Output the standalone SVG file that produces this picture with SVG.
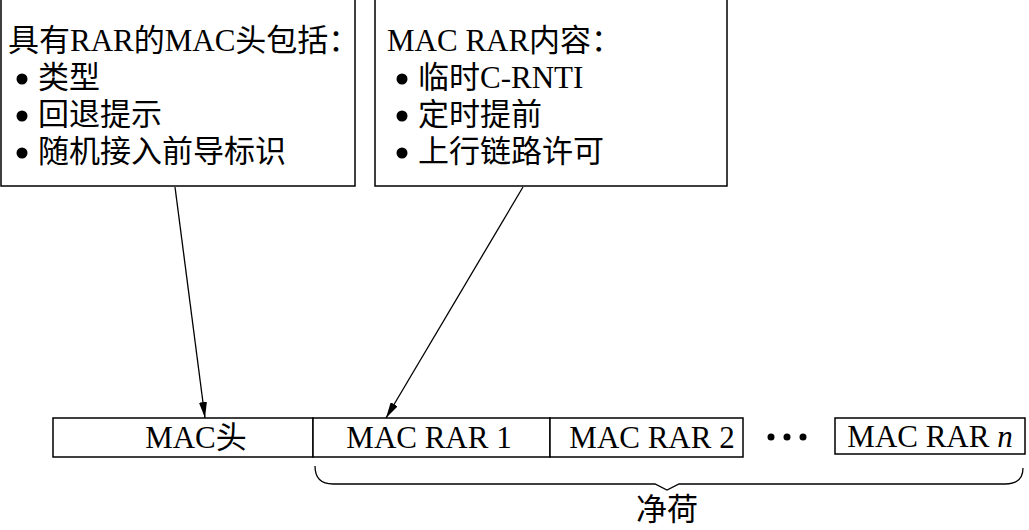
<svg xmlns="http://www.w3.org/2000/svg" width="1029" height="530" viewBox="0 0 1029 530">
<style>
.box{fill:#fff;stroke:#000;stroke-width:1.5}
.t{font-family:"Liberation Serif","Noto Sans CJK SC",serif;font-size:31px;fill:#000}
.c{text-anchor:middle}
.ln{stroke:#000;stroke-width:1.3;fill:none}
</style>
<defs>
<marker id="ah" viewBox="0 0 16 8" refX="16" refY="4" markerWidth="16" markerHeight="8" markerUnits="userSpaceOnUse" orient="auto">
<path d="M0,0 L16,4 L0,8 Z" fill="#000"/>
</marker>
</defs>
<rect width="1029" height="530" fill="#fff"/>
<g id="note1">
<rect class="box" x="1" y="-1" width="354" height="187"/>
<text class="t" x="8" y="51">具有RAR的MAC头包括：</text>
<circle cx="22" cy="79" r="5.5"/>
<text class="t" x="38" y="88">类型</text>
<circle cx="22" cy="116" r="5.5"/>
<text class="t" x="38" y="125">回退提示</text>
<circle cx="22" cy="153" r="5.5"/>
<text class="t" x="38" y="162">随机接入前导标识</text>
</g>
<g id="note2">
<rect class="box" x="375" y="-1" width="352" height="187"/>
<text class="t" x="387" y="51">MAC RAR内容：</text>
<circle cx="402" cy="79" r="5.5"/>
<text class="t" x="418" y="88">临时C-RNTI</text>
<circle cx="402" cy="116" r="5.5"/>
<text class="t" x="418" y="125">定时提前</text>
<circle cx="402" cy="153" r="5.5"/>
<text class="t" x="418" y="162">上行链路许可</text>
</g>
<g id="machead">
<rect class="box" x="53" y="418" width="260" height="39"/>
<text class="t c" x="196" y="448">MAC头</text>
</g>
<g id="rar1">
<rect class="box" x="313" y="418" width="237" height="39"/>
<text class="t c" x="429" y="448">MAC RAR 1</text>
</g>
<g id="rar2">
<rect class="box" x="550" y="418" width="193" height="39"/>
<text class="t c" x="652" y="448">MAC RAR 2</text>
</g>
<g id="dots">
<circle cx="771" cy="437" r="3.5"/>
<circle cx="787" cy="437" r="3.5"/>
<circle cx="803" cy="437" r="3.5"/>
</g>
<g id="rarn">
<rect class="box" x="835" y="418" width="190" height="36"/>
<text class="t c" x="930" y="447">MAC RAR <tspan font-style="italic">n</tspan></text>
</g>
<g id="payload">
<path class="ln" d="M315,466 Q315,484 333,484 L655,484 L667,490 L679,484 L1005,484 Q1023,484 1023,468"/>
<text class="t c" x="667" y="520">净荷</text>
</g>
<g id="connectors">
<line class="ln" x1="175" y1="187" x2="205" y2="418" marker-end="url(#ah)"/>
<line class="ln" x1="523" y1="187" x2="386" y2="418" marker-end="url(#ah)"/>
</g>
</svg>
